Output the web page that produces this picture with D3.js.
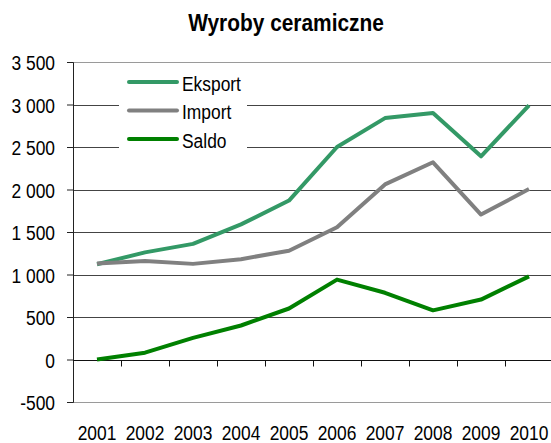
<!DOCTYPE html>
<html>
<head>
<meta charset="utf-8">
<script src="https://cdn.jsdelivr.net/npm/d3@7"></script>
<style>
body { margin: 0; background: #fff; }
text { font-family: "Liberation Sans", Arial, sans-serif; fill: #000; }
</style>
</head>
<body>
<div id="chart"></div>
<script>
// data
const years = ["2001", "2002", "2003", "2004", "2005", "2006", "2007", "2008", "2009", "2010"];
const eksport = [1120, 1260, 1360, 1590, 1870, 2500, 2840, 2900, 2390, 2990];
const imp = [1130, 1160, 1125, 1180, 1280, 1555, 2060, 2320, 1705, 2005];
const saldo = [0, 80, 255, 400, 600, 940, 785, 578, 705, 978];
const yTicks = [-500, 0, 500, 1000, 1500, 2000, 2500, 3000, 3500];

const series = [
	{name: "Eksport", values: eksport, color: "#339966"},
	{name: "Import", values: imp, color: "#808080"},
	{name: "Saldo", values: saldo, color: "#008000"}
];

var W = 551, H = 443;
var margin = {top: 62, right: -2, bottom: 41, left: 73};
var width = W - margin.left - margin.right,
    height = H - margin.top - margin.bottom;
var sx = 0.87; // text in the original is a bit narrow

var svg = d3.select("#chart").append("svg")
	.attr("width", W)
	.attr("height", H);

// squeezed text helper
function label(sel, x, y, txt, size, anchor) {
	return sel.append("text")
		.attr("transform", "translate(" + x + "," + y + ") scale(" + sx + ",1)")
		.attr("text-anchor", anchor || "start")
		.style("font-size", size + "px")
		.text(txt);
}

label(svg, 286, 31, "Wyroby ceramiczne", 24, "middle")
	.style("font-weight", "bold");

var g = svg.append("g")
	.attr("transform", "translate(" + margin.left + "," + margin.top + ")");

var x = d3.scaleBand().domain(years).range([0, width]);
var y = d3.scaleLinear().domain([-500, 3500]).range([height, 0]);

// gridlines
g.selectAll(".grid")
	.data(yTicks)
	.enter().append("line")
	.attr("x1", 0).attr("x2", width)
	.attr("y1", d => Math.round(y(d)) + 0.5)
	.attr("y2", d => Math.round(y(d)) + 0.5)
	.attr("stroke", d => (d == 3500 || d == -500) ? "#9a9a9a" : "#444")
	.attr("stroke-width", 1);

// y axis
var yAxis = g.append("g")
	.call(d3.axisLeft(y).tickValues(yTicks).tickSize(6).tickFormat(""));
yAxis.select(".domain").attr("stroke", "#222");
yAxis.selectAll(".tick line").attr("stroke", "#222");

yTicks.forEach(d => {
	var t = d3.format(",")(d).replace(/,/g, "\u00a0").replace("\u2212", "-");
	label(g, -18, y(d) + 8, t, 20, "end");
});

// x axis at zero, ticks between categories
var xg = g.append("g").attr("transform", "translate(0," + (Math.round(y(0)) + 0.5) + ")");
xg.append("line").attr("x1", 0).attr("x2", width).attr("stroke", "#111");
xg.selectAll(".xt")
	.data(years.slice(1))
	.enter().append("line")
	.attr("x1", d => Math.round(x(d)) + 0.5)
	.attr("x2", d => Math.round(x(d)) + 0.5)
	.attr("y1", 0).attr("y2", 6)
	.attr("stroke", "#111");

years.forEach(d => {
	label(g, x(d) + x.bandwidth() / 2, height + 38, d, 20, "middle");
});

// lines
var line = d3.line()
	.x((d, i) => x(years[i]) + x.bandwidth() / 2)
	.y(d => y(d));

series.forEach(s => {
	g.append("path")
		.datum(s.values)
		.attr("d", line)
		.attr("fill", "none")
		.attr("stroke", s.color)
		.attr("stroke-width", 4)
		.attr("stroke-linejoin", "round");
});

// legend
var leg = svg.append("g");
leg.append("rect")
	.attr("x", 119).attr("y", 66)
	.attr("width", 128).attr("height", 88)
	.attr("fill", "#fff");
series.forEach((s, i) => {
	var ly = 82 + i * 28.5;
	leg.append("line")
		.attr("x1", 129).attr("x2", 177)
		.attr("y1", ly).attr("y2", ly)
		.attr("stroke", s.color)
		.attr("stroke-width", 4)
		.attr("stroke-linecap", "round");
	label(leg, 182, ly + 8.5, s.name, 20);
});
</script>
</body>
</html>
